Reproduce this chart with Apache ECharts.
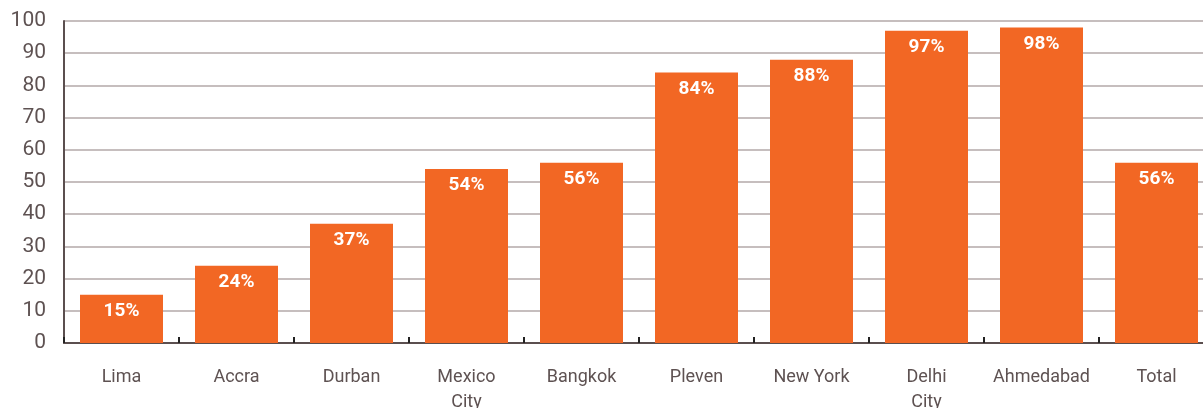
<!DOCTYPE html>
<html><head><meta charset="utf-8">
<script src="https://cdn.jsdelivr.net/npm/echarts@6/dist/echarts.min.js"></script>
<style>html,body{margin:0;padding:0;background:#fff}#c{width:1203px;height:408px}</style>
</head><body><div id="c"></div>
<script>
const categories = ['Lima','Accra','Durban','Mexico\nCity','Bangkok','Pleven','New York','Delhi\nCity','Ahmedabad','Total'];
const values = [15,24,37,54,56,84,88,97,98,56];
const yTicks = {min:0,max:100,interval:10};

const chart = echarts.init(document.getElementById('c'));
chart.setOption({
  animation:false,
  grid:{left:64,top:21,width:1150,height:322,containLabel:false,outerBoundsMode:'none'},
  xAxis:{type:'category',data:categories,
    axisLine:{lineStyle:{color:'#5b4f4f',width:2}},
    axisTick:{show:true,inside:true,length:6,lineStyle:{color:'#222',width:2}},
    axisLabel:{color:'#5e5252',fontFamily:'Roboto',fontSize:18,margin:22,lineHeight:25,interval:0}},
  yAxis:{type:'value',min:yTicks.min,max:yTicks.max,interval:yTicks.interval,
    axisLine:{show:true,lineStyle:{color:'#5b4f4f',width:2}},
    axisTick:{show:false},
    axisLabel:{color:'#5e5252',fontFamily:'Roboto',fontSize:21,margin:18},
    splitLine:{lineStyle:{color:'#b3a9a9',width:1.5}}},
  series:[{type:'bar',data:values,barWidth:83,
    itemStyle:{color:'#F26724'},
    label:{show:true,position:'insideTop',distance:7,color:'#fff',fontFamily:'Roboto',fontWeight:'bold',fontSize:19,formatter:'{c}%'}}]
});
</script></body></html>
